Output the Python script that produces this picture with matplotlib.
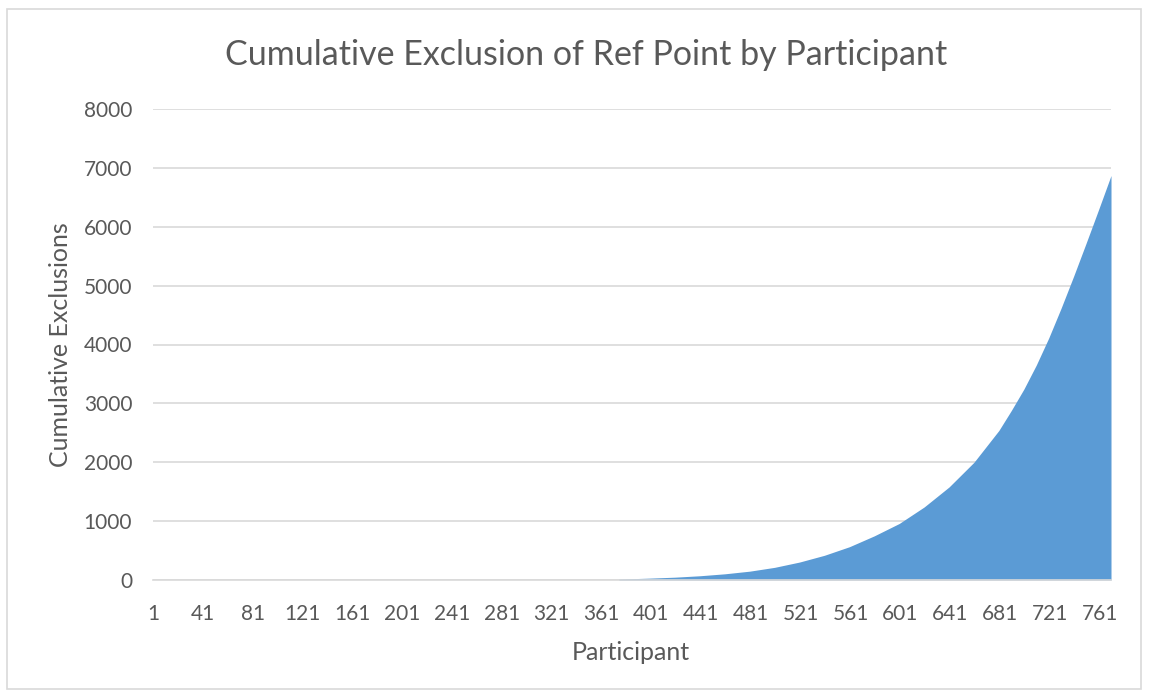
import matplotlib.pyplot as plt
from matplotlib.patches import Rectangle

# cumulative exclusions read at selected participants
participant = [375, 375, 400, 420, 440, 460, 480, 500, 520, 540, 560, 580,
               600, 620, 640, 660, 680, 690, 700, 710, 720, 730, 740, 750,
               760, 770]
cumulative = [0, 15, 32, 48, 72, 105, 150, 215, 305, 420, 565, 750,
              960, 1240, 1580, 2000, 2540, 2880, 3240, 3650, 4110, 4620,
              5160, 5720, 6290, 6870]

x_ticks = list(range(1, 762, 40))
y_ticks = list(range(0, 8001, 1000))

fill_color = '#5B9BD5'
text_color = '#595959'
grid_color = '#D9D9D9'

plt.rcParams['font.family'] = ['Lato', 'DejaVu Sans']

W, H = 1149, 692
fig = plt.figure(figsize=(W / 100, H / 100), dpi=100)
fig.patch.set_facecolor('white')

# chart border
fig.patches.append(Rectangle((7 / W, 1 - 689 / H), 1134 / W, 680 / H,
                             transform=fig.transFigure, fill=False,
                             edgecolor=grid_color, linewidth=1.2))

left, right, top, bottom = 153, 1111, 109, 580
ax = fig.add_axes([left / W, 1 - bottom / H, (right - left) / W, (bottom - top) / H])

ax.fill_between(participant, cumulative, 0, color=fill_color, linewidth=0)

ax.set_xlim(1, 770)
ax.set_ylim(0, 8000)
ax.set_xticks(x_ticks)
ax.set_yticks(y_ticks)
ax.grid(axis='y', color=grid_color, linewidth=1.2)
ax.set_axisbelow(True)
for side in ['top', 'right', 'left']:
    ax.spines[side].set_visible(False)
ax.spines['bottom'].set_color(grid_color)
ax.spines['bottom'].set_linewidth(1.2)
ax.tick_params(axis='both', length=0, labelsize=15, labelcolor=text_color)
ax.tick_params(axis='y', pad=15)
ax.tick_params(axis='x', pad=17)

fig.text(586 / W, 1 - 55 / H, 'Cumulative Exclusion of Ref Point by Participant',
         ha='center', va='center', fontsize=24.5, color=text_color)
fig.text(631 / W, 1 - 653 / H, 'Participant', ha='center', va='center',
         fontsize=18, color=text_color)
fig.text(60 / W, 1 - 345 / H, 'Cumulative Exclusions', ha='center', va='center',
         rotation=90, fontsize=18, color=text_color)

fig.savefig('out.png', dpi=100)
